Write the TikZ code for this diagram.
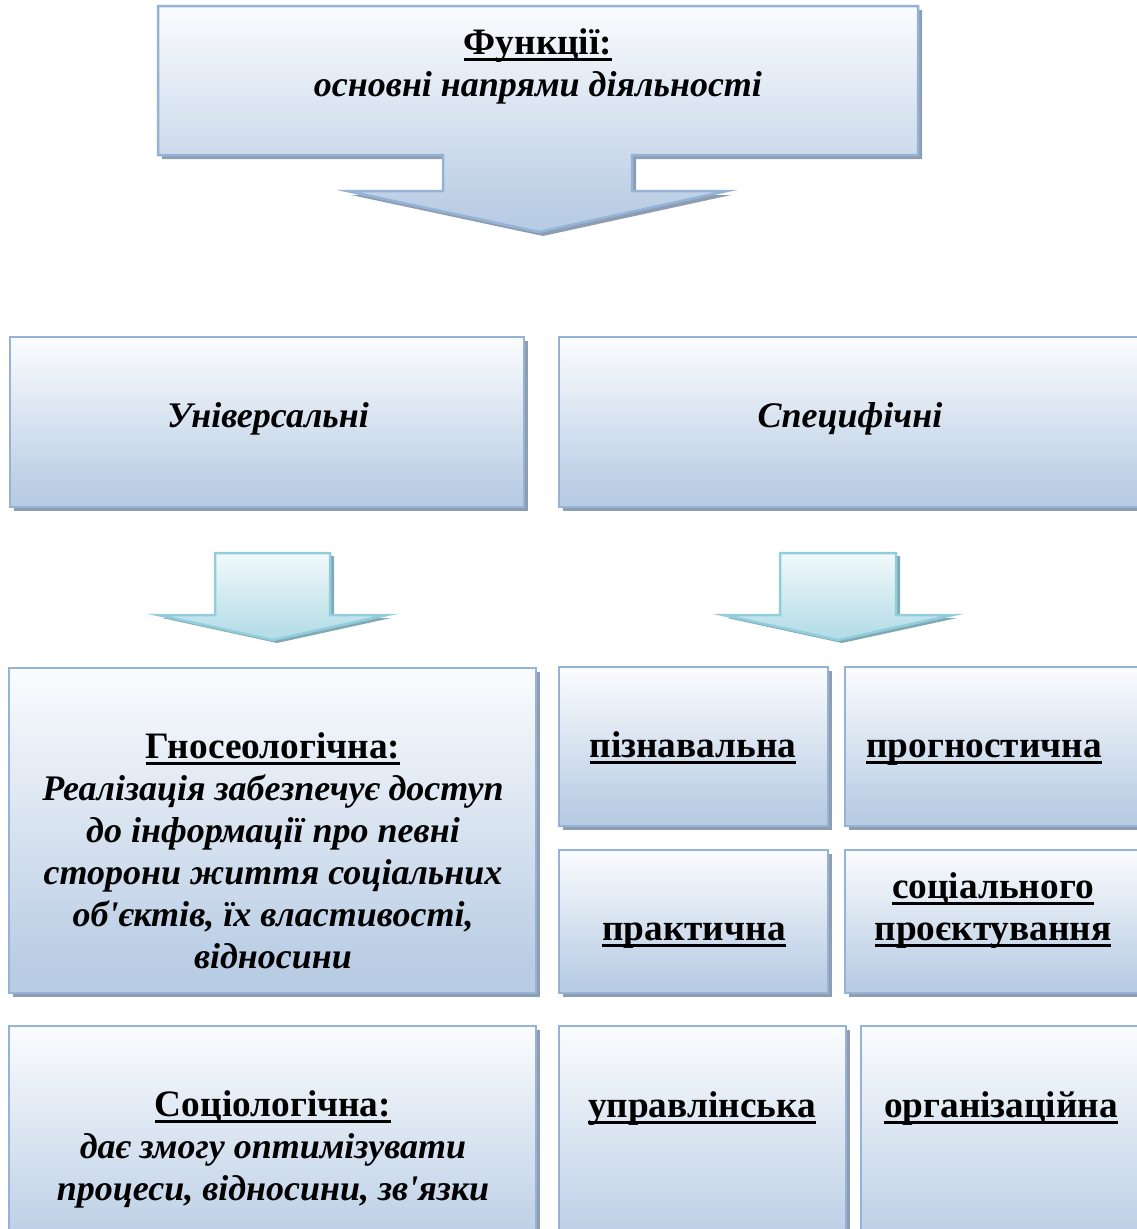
\documentclass[tikz,border=0pt]{standalone}
\usepackage{fontspec}
\setmainfont{Liberation Serif}
\usetikzlibrary{shadows}

\definecolor{boxline}{RGB}{149,179,215}
\definecolor{boxblue}{RGB}{184,204,228}
\definecolor{boxshadow}{RGB}{142,157,178}
\definecolor{arrline}{RGB}{146,205,220}
\definecolor{arrblue}{RGB}{183,222,232}
\definecolor{arrshadow}{RGB}{130,168,180}

\pgfdeclareverticalshading{boxshade}{100bp}{color(0bp)=(boxblue); color(28bp)=(boxblue); color(78bp)=(white); color(100bp)=(white)}
\pgfdeclareverticalshading{arrshade}{100bp}{color(0bp)=(arrblue); color(30bp)=(arrblue); color(85bp)=(white); color(100bp)=(white)}

\newcommand{\ulword}[1]{\setbox0\hbox{\fontsize{37.3}{42}\selectfont #1}\rlap{\rule[-7pt]{\wd0}{3pt}}\box0}

\tikzset{
	funcbox/.style={draw=boxline, line width=2.5pt, shade, shading=boxshade, anchor=north west,
		inner sep=0pt, outer sep=0pt,
		drop shadow={shadow xshift=4pt, shadow yshift=-4pt, fill=boxshadow, opacity=1}},
	blockarrow/.style={draw=arrline, line width=2.5pt, shade, shading=arrshade, line join=miter,
		drop shadow={shadow xshift=4pt, shadow yshift=-3pt, fill=arrshadow, opacity=1}},
	functext/.style={align=center, font=\bfseries\fontsize{36}{42}\selectfont, inner sep=0pt, anchor=base}
}

\begin{document}
\begin{tikzpicture}[x=1pt,y=1pt]
		\useasboundingbox (0,0) rectangle (1136,-1229);
		
		% top callout with its arrow
		\path[funcbox, draw=boxline] (158,-6) -- (918,-6) -- (918,-155) -- (632,-155) -- (632,-191) -- (727,-191) -- (539,-232) -- (347,-191) -- (443,-191) -- (443,-155) -- (158,-155) -- cycle;
		\node[functext] (func) at (538,-96) {\ulword{Функції:}\\ \textit{основні напрями діяльності}};
		
		% second row
		\node[funcbox, minimum width=514pt, minimum height=170pt] (univ) at (10,-337) {};
		\node[funcbox, minimum width=586pt, minimum height=170pt] (spec) at (559,-337) {};
		\node[functext] (univtxt) at (268,-427) {\textit{Універсальні}};
		\node[functext] (spectxt) at (850,-427) {\textit{Специфічні}};
		
		\path[blockarrow] (215,-553) -- (330,-553) -- (330,-615) -- (387,-615) -- (273,-640) -- (158,-615) -- (215,-615) -- cycle;
		\path[blockarrow] (780,-553) -- (896,-553) -- (896,-615) -- (953,-615) -- (838,-640) -- (723,-615) -- (780,-615) -- cycle;
		
		% lower boxes
		\node[funcbox, minimum width=527pt, minimum height=325pt] (gnos) at (9,-668) {};
		\node[funcbox, minimum width=269pt, minimum height=159pt] (pizn) at (559,-667) {};
		\node[funcbox, minimum width=300pt, minimum height=159pt] (progn) at (845,-667) {};
		\node[funcbox, minimum width=269pt, minimum height=143pt] (prakt) at (559,-850) {};
		\node[funcbox, minimum width=300pt, minimum height=143pt] (proekt) at (845,-850) {};
		\node[funcbox, minimum width=527pt, minimum height=240pt] (sociol) at (9,-1026) {};
		\node[funcbox, minimum width=287pt, minimum height=240pt] (uprav) at (559,-1026) {};
		\node[funcbox, minimum width=284pt, minimum height=240pt] (orgn) at (861,-1026) {};
		
		\node[functext] (gnostxt) at (273,-968) {\ulword{Гносеологічна:}\\ \textit{Реалізація забезпечує доступ}\\ \textit{до інформації про певні}\\ \textit{сторони життя соціальних}\\ \textit{об\textquotesingle єктів, їх властивості,}\\ \textit{відносини}};
		\node[functext] (pizntxt) at (693,-757) {\ulword{пізнавальна}};
		\node[functext] (progntxt) at (984,-757) {\ulword{прогностична}};
		\node[functext] (prakttxt) at (694,-940) {\ulword{практична}};
		\node[functext] (proekttxt) at (993,-940) {\ulword{соціального}\\ \ulword{проєктування}};
		\node[functext] (socioltxt) at (273,-1200) {\ulword{Соціологічна:}\\ \textit{дає змогу оптимізувати}\\ \textit{процеси, відносини, зв\textquotesingle язки}};
		\node[functext] (upravtxt) at (702,-1117) {\ulword{управлінська}};
		\node[functext] (orgntxt) at (1001,-1117) {\ulword{організаційна}};
\end{tikzpicture}
\end{document}
